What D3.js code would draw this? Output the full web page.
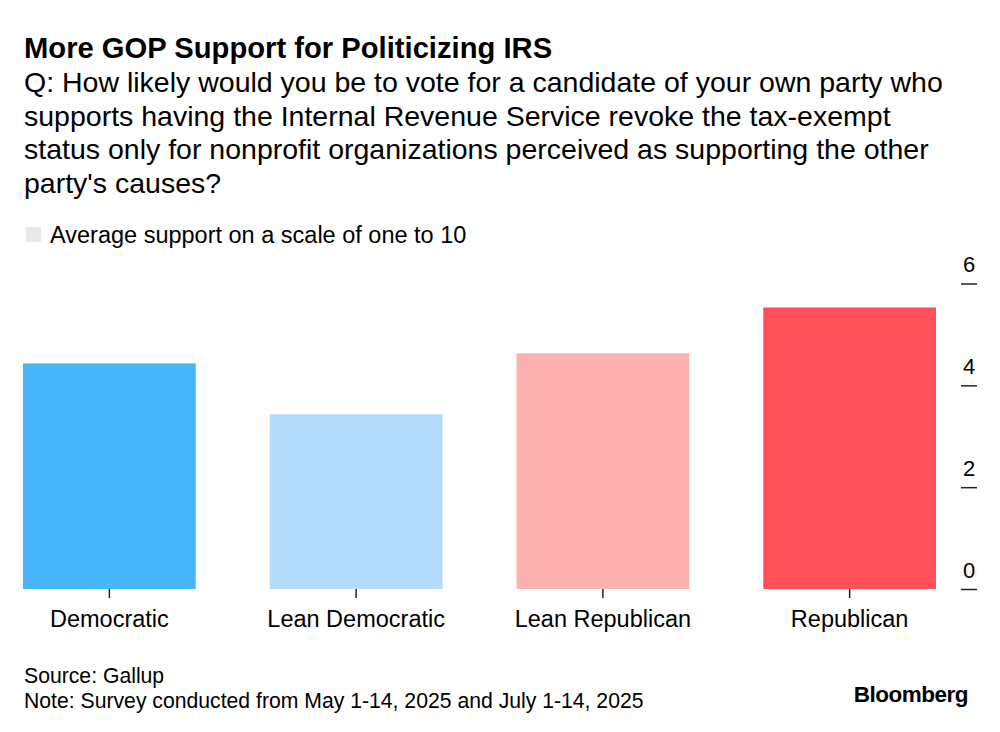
<!DOCTYPE html>
<html>
<head>
<meta charset="utf-8">
<script src="https://cdn.jsdelivr.net/npm/d3@7"></script>
<style>
  body { margin: 0; background: #fff; }
  text { font-family: "Liberation Sans", Arial, sans-serif; fill: #000; }
</style>
</head>
<body>
<div id="chart"></div>
<script>
// data
const categories = ["Democratic", "Lean Democratic", "Lean Republican", "Republican"];
const support = [4.43, 3.43, 4.63, 5.53];
const barColors = ["#47b6fb", "#b3dbfd", "#fcb2ae", "#ff4f5b"];
const yTicks = [0, 2, 4, 6];

const title = "More GOP Support for Politicizing IRS";
const subtitle = [
  "Q: How likely would you be to vote for a candidate of your own party who",
  "supports having the Internal Revenue Service revoke the tax-exempt",
  "status only for nonprofit organizations perceived as supporting the other",
  "party's causes?"
];
const legendLabel = "Average support on a scale of one to 10";
const footer = ["Source: Gallup", "Note: Survey conducted from May 1-14, 2025 and July 1-14, 2025"];

const W = 1000, H = 732;

const svg = d3.select("#chart")
  .append("svg")
  .attr("width", W)
  .attr("height", H);

// header
svg.append("text")
  .attr("x", 24).attr("y", 58)
  .attr("font-size", 29.2).attr("font-weight", "bold")
  .text(title);

svg.selectAll(".sub")
  .data(subtitle)
  .enter()
  .append("text")
  .attr("x", 24)
  .attr("y", (d, i) => 92 + i * 33.7)
  .attr("font-size", 28.5)
  .text(d => d);

// legend
svg.append("rect")
  .attr("x", 26).attr("y", 227)
  .attr("width", 15).attr("height", 15)
  .attr("fill", "#e9e9e9");
svg.append("text")
  .attr("x", 50).attr("y", 243)
  .attr("font-size", 23.5)
  .text(legendLabel);

// scales
const x = d3.scaleBand()
  .domain(categories)
  .range([23, 936])
  .paddingInner(0.3)
  .paddingOuter(0);

const y = d3.scaleLinear()
  .domain([0, 6])
  .range([589, 283.5]);

// bars
svg.selectAll(".bar")
  .data(categories)
  .enter()
  .append("rect")
  .attr("x", d => x(d))
  .attr("width", x.bandwidth())
  .attr("y", (d, i) => y(support[i]))
  .attr("height", (d, i) => y(0) - y(support[i]))
  .attr("fill", (d, i) => barColors[i]);

// x axis
const xAxis = svg.append("g")
  .attr("transform", `translate(0,${y(0)})`)
  .call(d3.axisBottom(x).tickSize(9).tickPadding(12));
xAxis.select(".domain").remove();
xAxis.selectAll("line").attr("stroke", "#222").attr("stroke-width", 1.5);
xAxis.selectAll("text")
  .attr("font-size", 23.5)
  .attr("font-family", "Liberation Sans, Arial, sans-serif")
  .attr("fill", "#000");

// y axis on the right: short dash with label above
const yAxis = svg.append("g")
  .attr("transform", "translate(961,0)")
  .call(d3.axisRight(y).tickValues(yTicks).tickSize(16).tickFormat(d3.format("d")));
yAxis.select(".domain").remove();
yAxis.selectAll("line").attr("stroke", "#222").attr("stroke-width", 1.5);
yAxis.selectAll("text")
  .attr("x", 8)
  .attr("dy", "-12")
  .attr("text-anchor", "middle")
  .attr("font-size", 22)
  .attr("font-family", "Liberation Sans, Arial, sans-serif")
  .attr("fill", "#000");

// footer
svg.selectAll(".foot")
  .data(footer)
  .enter()
  .append("text")
  .attr("x", 24)
  .attr("y", (d, i) => 683 + i * 25)
  .attr("font-size", 21.2)
  .text(d => d);

svg.append("text")
  .attr("x", 968).attr("y", 702)
  .attr("text-anchor", "end")
  .attr("font-size", 22.5).attr("font-weight", "bold")
  .attr("letter-spacing", -0.5)
  .text("Bloomberg");
</script>
</body>
</html>
